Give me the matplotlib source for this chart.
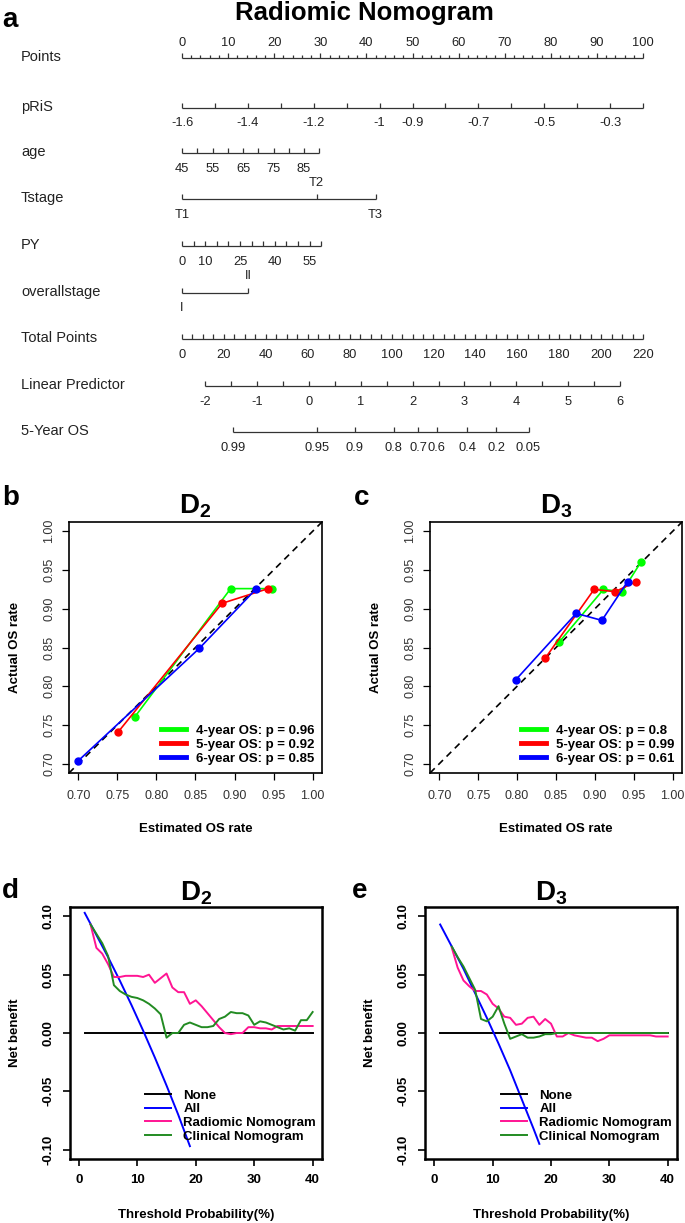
import numpy as np
import matplotlib
matplotlib.use("Agg")
import matplotlib.pyplot as plt
from matplotlib.lines import Line2D

plt.rcParams["font.family"] = ["Liberation Sans", "DejaVu Sans"]
plt.rcParams["mathtext.fontset"] = "custom"
plt.rcParams["mathtext.rm"] = "Liberation Sans"
plt.rcParams["mathtext.bf"] = "Liberation Sans:bold"

W, H = 685, 1223

# ---------------- nomogram (a) ----------------
POINTS_MAJOR = [0, 10, 20, 30, 40, 50, 60, 70, 80, 90, 100]
PRIS_MIN, PRIS_MAX = -1.6, -0.2
PRIS_TICKS = [-1.6, -1.5, -1.4, -1.3, -1.2, -1.1, -1.0, -0.9, -0.8, -0.7, -0.6, -0.5, -0.4, -0.3, -0.2]
PRIS_LABELS = [-1.6, -1.4, -1.2, -1, -0.9, -0.7, -0.5, -0.3]
AGE_TICKS = [45, 50, 55, 60, 65, 70, 75, 80, 85, 90]
AGE_LABELS = [45, 55, 65, 75, 85]
AGE_MAX_POINTS = 29.8
TSTAGE_LEVELS = ["T1", "T2", "T3"]
TSTAGE_POINTS = [0, 29.2, 42.0]
PY_TICKS = [0, 5, 10, 15, 20, 25, 30, 35, 40, 45, 50, 55, 60]
PY_LABELS = [0, 10, 25, 40, 55]
PY_MAX_POINTS = 30.2
OVERALL_LEVELS = ["I", "II"]
OVERALL_POINTS = [0, 14.4]
TOTAL_MAX = 220
TOTAL_LABELS = [0, 20, 40, 60, 80, 100, 120, 140, 160, 180, 200, 220]
LP_LABELS = [-2, -1, 0, 1, 2, 3, 4, 5, 6]
LP_TOTAL_AT_MIN = 10.9      # total points where LP = -2
LP_TOTAL_PER_UNIT = 24.78
OS_LABELS = [0.99, 0.95, 0.9, 0.8, 0.7, 0.6, 0.4, 0.2, 0.05]
OS_LP_SHIFT = 3.137         # lp = log(-log S) + shift

# ---------------- calibration (b, c) ----------------
B_X4 = [0.772, 0.895, 0.948]; B_Y4 = [0.760, 0.926, 0.926]
B_X5 = [0.751, 0.884, 0.943]; B_Y5 = [0.741, 0.907, 0.926]
B_X6 = [0.699, 0.855, 0.928]; B_Y6 = [0.703, 0.849, 0.926]
B_P = ["0.96", "0.92", "0.85"]
C_X4 = [0.854, 0.911, 0.935, 0.959]; C_Y4 = [0.857, 0.925, 0.922, 0.960]
C_X5 = [0.836, 0.899, 0.926, 0.953]; C_Y5 = [0.836, 0.925, 0.922, 0.935]
C_X6 = [0.798, 0.876, 0.909, 0.942]; C_Y6 = [0.808, 0.894, 0.885, 0.935]
C_P = ["0.8", "0.99", "0.61"]
CAL_TICKS = [0.70, 0.75, 0.80, 0.85, 0.90, 0.95, 1.00]

# ---------------- decision curves (d, e) ----------------
NONE_X = [1, 40]; NONE_Y = [0, 0]
D_ALL_X = [1, 3, 5, 7, 9, 11, 13, 15, 17, 19]
D_ALL_Y = [0.103, 0.084, 0.065, 0.045, 0.024, 0.002, -0.021, -0.045, -0.070, -0.097]
D_THR = list(range(2, 41))
D_RAD = [0.093, 0.073, 0.068, 0.059, 0.048, 0.048, 0.049, 0.049, 0.049, 0.048,
         0.050, 0.043, 0.047, 0.051, 0.039, 0.035, 0.035, 0.025, 0.028, 0.023,
         0.017, 0.011, 0.005, 0.000, -0.001, 0.000, 0.000, 0.005, 0.005, 0.004,
         0.004, 0.003, 0.006, 0.006, 0.006, 0.006, 0.006, 0.006, 0.006]
D_CLIN = [0.093, 0.085, 0.077, 0.066, 0.041, 0.036, 0.033, 0.031, 0.030, 0.028,
          0.025, 0.021, 0.016, -0.004, 0.000, 0.000, 0.007, 0.009, 0.007, 0.005,
          0.005, 0.006, 0.012, 0.014, 0.018, 0.017, 0.017, 0.015, 0.007, 0.010,
          0.009, 0.007, 0.005, 0.003, 0.004, 0.002, 0.011, 0.011, 0.018]
E_ALL_X = [1, 3, 5, 7, 9, 11, 13, 15, 17, 18]
E_ALL_Y = [0.093, 0.074, 0.055, 0.034, 0.013, -0.009, -0.032, -0.057, -0.082, -0.095]
E_THR = list(range(3, 41))
E_RAD = [0.073, 0.056, 0.045, 0.040, 0.036, 0.036, 0.033, 0.025, 0.021, 0.014,
         0.013, 0.007, 0.008, 0.013, 0.014, 0.007, 0.012, 0.008, -0.003, -0.003,
         0.000, -0.002, -0.003, -0.004, -0.004, -0.007, -0.005, -0.002, -0.002, -0.002,
         -0.002, -0.002, -0.002, -0.002, -0.002, -0.003, -0.003, -0.003]
E_CLIN = [0.074, 0.065, 0.057, 0.047, 0.037, 0.012, 0.010, 0.014, 0.023, 0.008,
          -0.005, -0.003, -0.001, -0.004, -0.004, -0.003, -0.001, -0.001, 0.0, 0.0,
          0.0, 0.0, 0.0, 0.0, 0.0, 0.0, 0.0, 0.0, 0.0, 0.0,
          0.0, 0.0, 0.0, 0.0, 0.0, 0.0, 0.0, 0.0]
DCA_LABELS = ["None", "All", "Radiomic Nomogram", "Clinical Nomogram"]
DCA_COLORS = ["black", "#0000FF", "#FF1493", "#228B22"]

fig = plt.figure(figsize=(W / 100, H / 100), dpi=100)
fig.patch.set_facecolor("white")


def px_axes(x0, y0, x1, y1):
    return fig.add_axes([x0 / W, 1 - y1 / H, (x1 - x0) / W, (y1 - y0) / H])


# ---- nomogram ----
NOM_H = 470
PT0, PT_PX = 182, 4.61
INK = "#333333"
nom = fig.add_axes([0, 1 - NOM_H / H, 1, NOM_H / H])
nom.set_xlim(-PT0 / PT_PX, (W - PT0) / PT_PX)
nom.set_ylim(NOM_H, 0)
nom.axis("off")
lab_tr = nom.get_yaxis_transform()


def row(y, name, lo, hi, ticks, tlen=5):
    nom.text(21 / W, y - 1, name, transform=lab_tr, ha="left", va="center", fontsize=10.5, color="#222222")
    nom.plot([lo, hi], [y, y], color=INK, lw=0.9, solid_capstyle="butt")
    nom.vlines(ticks, y - tlen, y, color=INK, lw=0.9)


def tlabels(y, pos, texts, dy):
    for p, t in zip(pos, texts):
        nom.text(p, y + dy, t, ha="center", va="center", fontsize=9.3, color="#222222")


def tp_to_x(tp):
    return np.asarray(tp, dtype=float) * 100 / TOTAL_MAX


def lp_to_x(lp):
    return tp_to_x(LP_TOTAL_AT_MIN + (np.asarray(lp, dtype=float) - LP_LABELS[0]) * LP_TOTAL_PER_UNIT)


fig.text(364 / W, 1 - 20 / H, "Radiomic Nomogram", ha="center", va="baseline", fontsize=18.5, fontweight="bold")
fig.text(2 / W, 1 - 27 / H, "a", ha="left", va="baseline", fontsize=20, fontweight="bold")

y = 58
row(y, "Points", 0, 100, POINTS_MAJOR)
minor = [p for p in np.arange(0, 101, 2) if p % 10]
nom.vlines(minor, y - 2.5, y, color=INK, lw=0.9)
tlabels(y, POINTS_MAJOR, [str(p) for p in POINTS_MAJOR], -15)

y = 108
pr = lambda v: (np.asarray(v) - PRIS_MIN) / (PRIS_MAX - PRIS_MIN) * 100
row(y, "pRiS", 0, 100, pr(PRIS_TICKS))
tlabels(y, pr(PRIS_LABELS), [f"{v:g}" for v in PRIS_LABELS], 15)

y = 153
ag = lambda v: (np.asarray(v) - AGE_TICKS[0]) / (AGE_TICKS[-1] - AGE_TICKS[0]) * AGE_MAX_POINTS
row(y, "age", 0, AGE_MAX_POINTS, ag(AGE_TICKS))
tlabels(y, ag(AGE_LABELS), [str(v) for v in AGE_LABELS], 16)

y = 199
row(y, "Tstage", TSTAGE_POINTS[0], TSTAGE_POINTS[-1], TSTAGE_POINTS)
tlabels(y, [TSTAGE_POINTS[0], TSTAGE_POINTS[2]], [TSTAGE_LEVELS[0], TSTAGE_LEVELS[2]], 16)
tlabels(y, [TSTAGE_POINTS[1]], [TSTAGE_LEVELS[1]], -16)

y = 246
py = lambda v: np.asarray(v) / PY_TICKS[-1] * PY_MAX_POINTS
row(y, "PY", 0, PY_MAX_POINTS, py(PY_TICKS))
tlabels(y, py(PY_LABELS), [str(v) for v in PY_LABELS], 16)

y = 293
row(y, "overallstage", OVERALL_POINTS[0], OVERALL_POINTS[1], OVERALL_POINTS)
tlabels(y, [OVERALL_POINTS[0]], [OVERALL_LEVELS[0]], 15)
tlabels(y, [OVERALL_POINTS[1]], [OVERALL_LEVELS[1]], -17)

y = 339
row(y, "Total Points", 0, 100, tp_to_x(np.arange(0, TOTAL_MAX + 1, 5)))
tlabels(y, tp_to_x(TOTAL_LABELS), [str(v) for v in TOTAL_LABELS], 16)

y = 386
row(y, "Linear Predictor", lp_to_x(LP_LABELS[0]), lp_to_x(LP_LABELS[-1]),
    lp_to_x(np.arange(LP_LABELS[0], LP_LABELS[-1] + 0.01, 0.5)))
tlabels(y, lp_to_x(LP_LABELS), [str(v) for v in LP_LABELS], 16)

y = 432
os_x = lp_to_x(np.log(-np.log(OS_LABELS)) + OS_LP_SHIFT)
row(y, "5-Year OS", os_x.min(), os_x.max(), os_x)
tlabels(y, os_x, [f"{v:g}" for v in OS_LABELS], 16)


# ---- calibration ----
def calib(ax, series, pvals, title):
    for (xs, ys), col in zip(series, ["#00FF00", "#FF0000", "#0000FF"]):
        ax.plot(xs, ys, color=col, lw=1.2, marker="o", ms=5, zorder=3)
    ax.plot([0.688, 1.012], [0.688, 1.012], color="black", lw=1.2, ls=(0, (4, 3)), zorder=2)
    ax.set_xlim(0.688, 1.012)
    ax.set_ylim(0.688, 1.012)
    ax.set_xticks(CAL_TICKS)
    ax.set_yticks(CAL_TICKS)
    ax.set_xticklabels([f"{t:.2f}" for t in CAL_TICKS])
    ax.set_yticklabels([f"{t:.2f}" for t in CAL_TICKS], rotation=90, va="center")
    ax.tick_params(length=5, width=0.9, labelsize=9, labelcolor="#333333", pad=5)
    ax.tick_params(axis="x", pad=7)
    for s in ax.spines.values():
        s.set_linewidth(1.2)
    handles = [Line2D([], [], color=c, lw=3.5) for c in ["#00FF00", "#FF0000", "#0000FF"]]
    labels = [f"{k}-year OS: p = {p}" for k, p in zip([4, 5, 6], pvals)]
    ax.legend(handles, labels, loc="lower right", frameon=False, borderaxespad=0.2,
              prop={"weight": "bold", "size": 9.5}, handlelength=1.9, handletextpad=0.75,
              labelspacing=0.15)
    ax.text(0.5, 1.036, title, transform=ax.transAxes, ha="center", va="baseline", fontsize=20)
    ax.text(0.5, -0.225, "Estimated OS rate", transform=ax.transAxes, ha="center", va="center",
            fontsize=9.5, fontweight="bold")


axb = px_axes(69, 522, 322, 773)
calib(axb, [(B_X4, B_Y4), (B_X5, B_Y5), (B_X6, B_Y6)], B_P, r"$\mathbf{D}_{\mathbf{2}}$")
axc = px_axes(430, 522, 682, 773)
calib(axc, [(C_X4, C_Y4), (C_X5, C_Y5), (C_X6, C_Y6)], C_P, r"$\mathbf{D}_{\mathbf{3}}$")
fig.text(15 / W, 1 - 647 / H, "Actual OS rate", rotation=90, ha="center", va="center", fontsize=9.5, fontweight="bold")
fig.text(376 / W, 1 - 647 / H, "Actual OS rate", rotation=90, ha="center", va="center", fontsize=9.5, fontweight="bold")
fig.text(2 / W, 1 - 505 / H, "b", ha="left", va="baseline", fontsize=20, fontweight="bold")
fig.text(354 / W, 1 - 505 / H, "c", ha="left", va="baseline", fontsize=20, fontweight="bold")


# ---- decision curves ----
def dca(ax, all_x, all_y, thr, rad, clin, title, legx):
    ax.plot(NONE_X, NONE_Y, color=DCA_COLORS[0], lw=1.4)
    ax.plot(all_x, all_y, color=DCA_COLORS[1], lw=1.4)
    ax.plot(thr, rad, color=DCA_COLORS[2], lw=1.4)
    ax.plot(thr, clin, color=DCA_COLORS[3], lw=1.4)
    ax.set_xlim(-1.6, 41.6)
    ax.set_ylim(-0.108, 0.108)
    ax.set_xticks([0, 10, 20, 30, 40])
    ax.set_yticks([-0.10, -0.05, 0.00, 0.05, 0.10])
    ax.set_yticklabels([f"{t:.2f}" for t in [-0.10, -0.05, 0.00, 0.05, 0.10]], rotation=90, va="center")
    ax.tick_params(length=5, width=1.2, labelsize=9.5, pad=6)
    for lab in ax.get_xticklabels() + ax.get_yticklabels():
        lab.set_fontweight("bold")
    for s in ax.spines.values():
        s.set_linewidth(1.8)
    handles = [Line2D([], [], color=c, lw=1.4) for c in DCA_COLORS]
    ax.legend(handles, DCA_LABELS, loc="upper left", bbox_to_anchor=(legx, 0.275), frameon=False,
              borderpad=0, borderaxespad=0, prop={"weight": "bold", "size": 9.5},
              handlelength=2.0, handletextpad=0.9, labelspacing=0.1)
    ax.text(0.5, 1.028, title, transform=ax.transAxes, ha="center", va="baseline", fontsize=20)
    ax.text(0.5, -0.222, "Threshold Probability(%)", transform=ax.transAxes, ha="center", va="center",
            fontsize=9.5, fontweight="bold")


axd = px_axes(69.5, 907, 322, 1159)
dca(axd, D_ALL_X, D_ALL_Y, D_THR, D_RAD, D_CLIN, r"$\mathbf{D}_{\mathbf{2}}$", 0.299)
axe = px_axes(425, 907, 677, 1159)
dca(axe, E_ALL_X, E_ALL_Y, E_THR, E_RAD, E_CLIN, r"$\mathbf{D}_{\mathbf{3}}$", 0.302)
fig.text(15 / W, 1 - 1033 / H, "Net benefit", rotation=90, ha="center", va="center", fontsize=9.5, fontweight="bold")
fig.text(370 / W, 1 - 1033 / H, "Net benefit", rotation=90, ha="center", va="center", fontsize=9.5, fontweight="bold")
fig.text(2 / W, 1 - 898 / H, "d", ha="left", va="baseline", fontsize=20, fontweight="bold")
fig.text(352 / W, 1 - 898 / H, "e", ha="left", va="baseline", fontsize=20, fontweight="bold")

fig.savefig("out.png", dpi=100)
